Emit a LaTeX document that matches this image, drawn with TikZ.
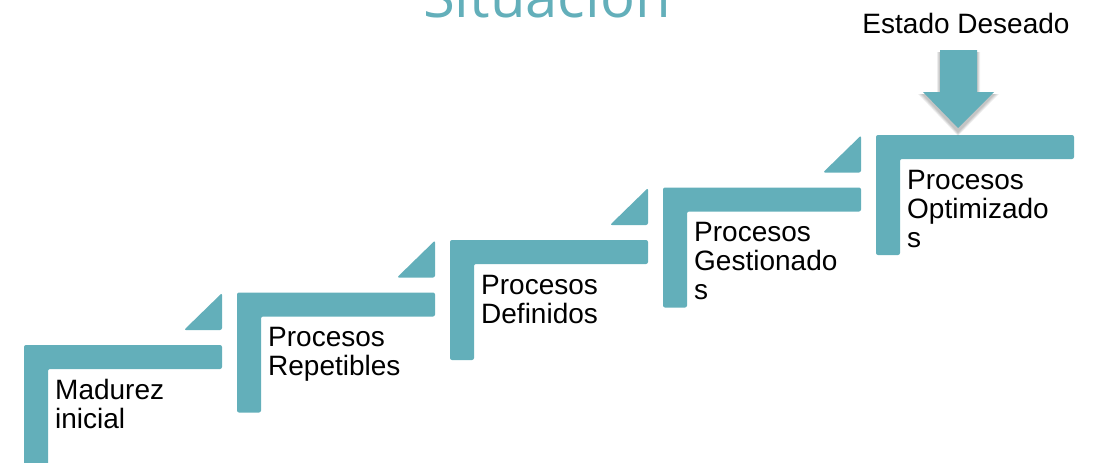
\documentclass[tikz,border=0pt]{standalone}
\usepackage{fontspec}
\setmainfont{Liberation Sans}
\newfontfamily\titlefont{Open Sans}
\definecolor{tealstep}{HTML}{63AFBA}
\begin{document}
\begin{tikzpicture}[x=1pt,y=-1pt,
  stepshape/.style={fill=tealstep, rounded corners=2pt},
  lbl/.style={anchor=base west, align=left, inner sep=0pt, font=\fontsize{28}{29}\selectfont}]
\useasboundingbox (0,0) rectangle (1096,463);
\clip (0,0) rectangle (1096,463);
% title
\node[anchor=base, inner sep=0pt, text=tealstep, font=\titlefont\fontsize{58}{60}\selectfont] (title) at (547,17) {Situación};
% steps (n = number of text lines; base anchor is last line's baseline)
\foreach \i/\n/\txt in {0/2/{Madurez\\inicial},1/2/{Procesos\\Repetibles},2/2/{Procesos\\Definidos},3/3/{Procesos\\Gestionado\\s},4/3/{Procesos\\Optimizado\\s}}{
  \pgfmathsetmacro{\xo}{24+213*\i}
  \pgfmathsetmacro{\yo}{345-52.5*\i}
  \fill[stepshape] (\xo,\yo) -- (\xo+198,\yo) -- (\xo+198,\yo+24) -- (\xo+24,\yo+24) -- (\xo+24,\yo+120) -- (\xo,\yo+120) -- cycle;
  \node[lbl] (label\i) at (\xo+31,\yo+54+29*\n-29) {\txt};
}
\foreach \i in {0,1,2,3}{
  \pgfmathsetmacro{\xo}{24+213*\i}
  \pgfmathsetmacro{\yo}{345-52.5*\i}
  \fill[stepshape] (\xo+198,\yo-52) -- (\xo+198,\yo-15) -- (\xo+160,\yo-15) -- cycle;
}
% arrow shadow
\foreach \k in {1,...,5}{
  \fill[black, opacity=0.05] (940-\k*0.6,52) -- (977+\k*0.6,52) -- (977+\k*0.6,94) -- (994+\k,94) -- (958,132+\k*0.8) -- (923-\k,94) -- (940-\k*0.6,94) -- cycle;
}
\fill[tealstep] (940,50) -- (977,50) -- (977,92) -- (994,92) -- (958,128) -- (923,92) -- (940,92) -- cycle;
\node[anchor=base, inner sep=0pt, font=\fontsize{28}{29}\selectfont] (goal) at (966,33) {Estado Deseado};
\end{tikzpicture}
\end{document}
